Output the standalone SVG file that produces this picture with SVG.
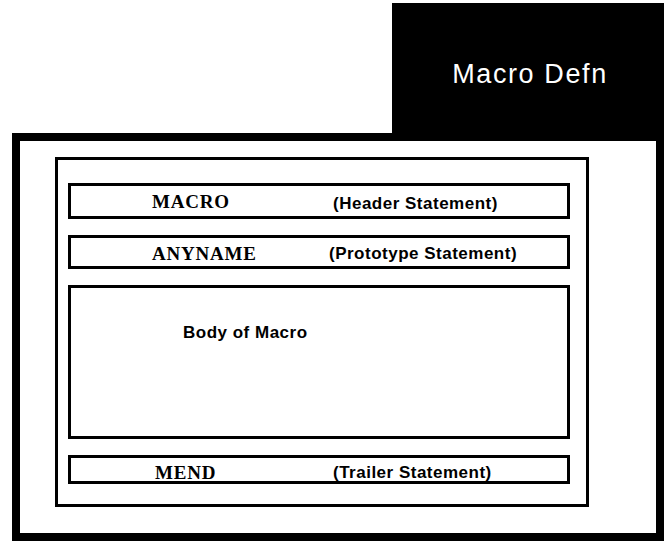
<svg xmlns="http://www.w3.org/2000/svg" width="669" height="544" viewBox="0 0 669 544">
  <style>
    .frame { fill: #ffffff; stroke: #000000; stroke-width: 8; }
    .box { fill: #ffffff; stroke: #000000; stroke-width: 3; }
    .code { font-family: "Liberation Serif", "Times New Roman", serif; font-weight: bold; font-size: 19px; letter-spacing: 0.8px; fill: #000000; }
    .label { font-family: "Liberation Sans", Arial, sans-serif; font-weight: bold; font-size: 17px; letter-spacing: 0.5px; fill: #000000; }
    .title { font-family: "Liberation Sans", Arial, sans-serif; font-size: 27px; letter-spacing: 1.6px; fill: #ffffff; }
  </style>
  <rect width="669" height="544" fill="#ffffff"/>
  <g id="tab">
    <rect x="392" y="3" width="272" height="135" fill="#000000"/>
    <text class="title" x="530" y="83" text-anchor="middle">Macro Defn</text>
  </g>
  <g id="outer-frame">
    <rect class="frame" x="16" y="137" width="644" height="400"/>
  </g>
  <g id="macro-definition">
    <rect class="box" x="56.5" y="158.5" width="531" height="347"/>
  </g>
  <g id="header-statement">
    <rect class="box" x="69.5" y="184.5" width="499" height="33"/>
    <text class="code" x="152" y="208">MACRO</text>
    <text class="label" x="333" y="209">(Header Statement)</text>
  </g>
  <g id="prototype-statement">
    <rect class="box" x="69.5" y="236.5" width="499" height="31"/>
    <text class="code" x="152" y="260">ANYNAME</text>
    <text class="label" x="329" y="259">(Prototype Statement)</text>
  </g>
  <g id="body-of-macro">
    <rect class="box" x="69.5" y="286.5" width="499" height="151"/>
    <text class="label" x="183" y="338">Body of Macro</text>
  </g>
  <g id="trailer-statement">
    <rect class="box" x="69.5" y="456.5" width="499" height="26"/>
    <text class="code" x="155" y="479">MEND</text>
    <text class="label" x="333" y="478">(Trailer Statement)</text>
  </g>
</svg>
